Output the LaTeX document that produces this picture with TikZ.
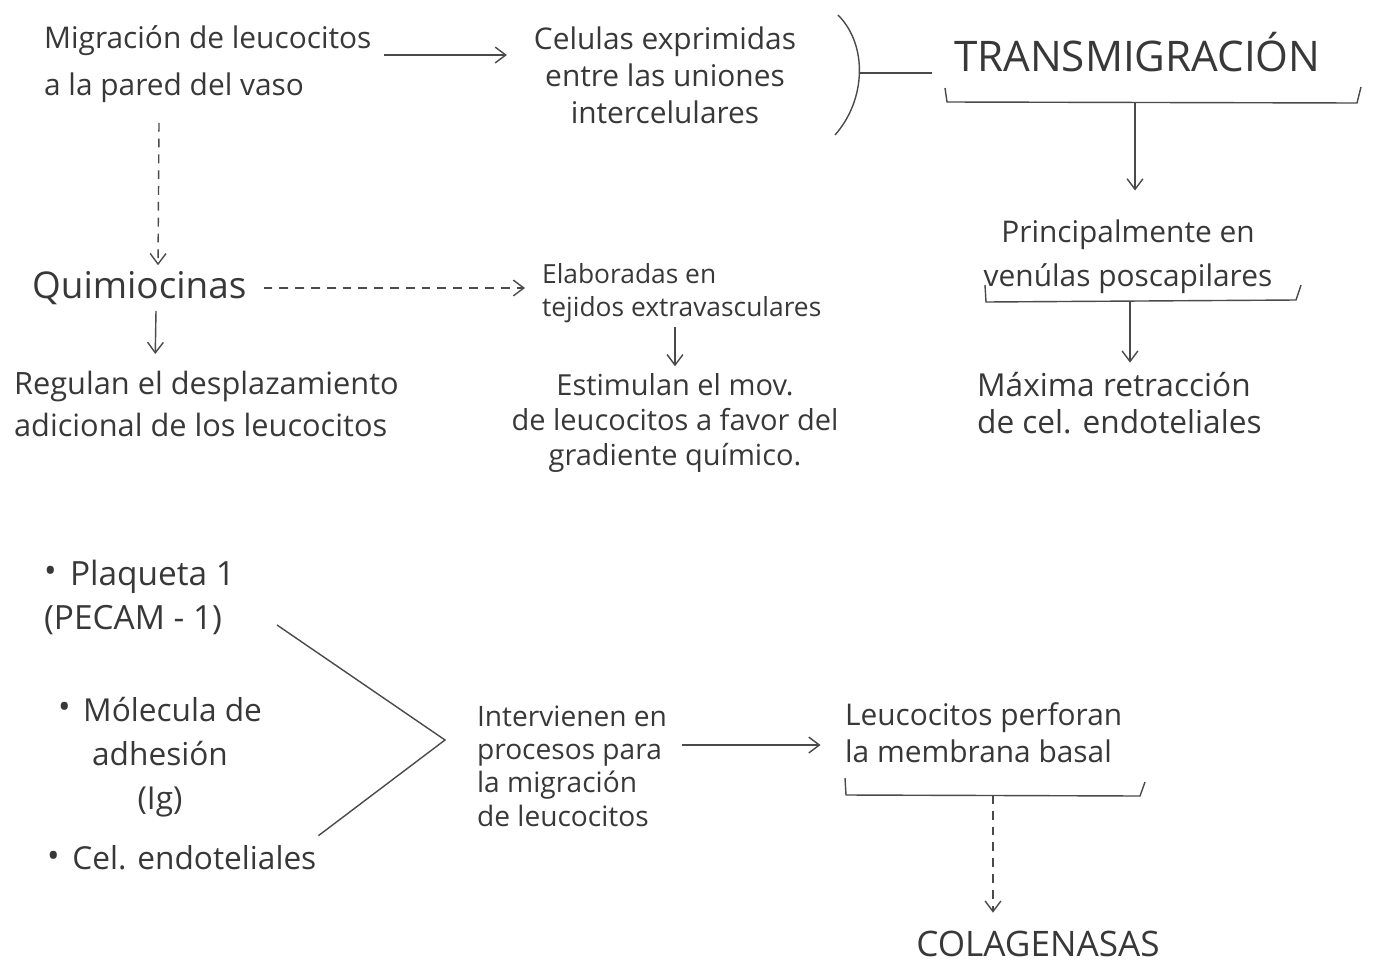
\documentclass[tikz,border=0pt]{standalone}
\usepackage{fontspec}
\setmainfont{Open Sans}
\usepackage{xcolor}
\usetikzlibrary{positioning,arrows.meta,calc}
\definecolor{ink}{HTML}{383838}
\definecolor{pencil}{HTML}{4A4A4A}
\newcommand{\hw}[2]{\fontsize{#1}{#2}\selectfont}
\newcommand{\dotb}{\raisebox{0.15ex}{\hw{19}{19}•}\hspace{0.4em}}

\begin{document}
\begin{tikzpicture}[x=0.02cm, y=-0.02cm,
    hand/.style={text=ink, inner sep=1pt, align=left, font=\hw{16}{24}},
    arrow/.style={-{Straight Barb[length=6pt,width=9pt]}, draw=pencil, line width=0.8pt},
    dasharrow/.style={arrow, dash pattern=on 5pt off 4pt},
    bracket/.style={draw=pencil, line width=0.8pt}
]
\useasboundingbox (0,0) rectangle (1373,967);

% Top row
\node[hand, anchor=west, font=\hw{17}{27}] (mig) at (42,64) {Migración de leucocitos\\a la pared del vaso};
\node[hand, align=center, font=\hw{17}{21}] (cel) at (665,75) {Celulas exprimidas\\entre las uniones\\intercelulares};
\node[hand, anchor=west, font=\hw{24}{28}] (trans) at (952,52) {TRANSMIGRACIÓN};

\draw[arrow, shorten <=0.2cm, shorten >=0.5cm] (mig.east |- 0,55) -- (cel.west |- 0,55);

% Closing arc and link to TRANSMIGRACION
\coordinate (arcT) at (838,15);
\coordinate (arcB) at (835,135);
\draw[bracket] (arcT) .. controls (868,45) and (866,100) .. (arcB) coordinate[pos=0.5] (arcM);
\draw[bracket, shorten >=0.4cm] (arcM) -- (trans.west |- arcM);

% Right column
\node[hand, align=center, font=\hw{17}{25}] (prin) at (1128,257) {Principalmente en\\venúlas poscapilares};
\node[hand, anchor=west, font=\hw{18}{21}] (max) at (975,403) {Máxima retracción\\de cel. endoteliales};

% Bracket under TRANSMIGRACION
\coordinate (tb) at (1135,102);
\draw[bracket] (945,88) -- (947,102) -- (1357,103) -- (1361,87);
\draw[arrow, shorten >=0.55cm] (tb) -- (prin.north -| tb);

% Bracket under venulas
\coordinate (pb) at (1130,301);
\draw[bracket] (985,285) -- (986,302) -- (1296,300) -- (1301,285);
\draw[arrow, shorten >=0.15cm] (pb) -- (max.north -| pb);

% Quimiocinas
\node[hand, anchor=west, font=\hw{21}{24}] (quim) at (30,288) {Quimiocinas};
\draw[dasharrow] ($(mig.south west)+(117,18)$) -- ($(quim.north west)+(128,-4)$);
\node[hand, anchor=west, font=\hw{15}{19}] (elab) at (540,293) {Elaboradas en\\tejidos extravasculares};
\draw[dasharrow, shorten <=0.3cm, shorten >=0.3cm] (quim.east) -- (elab.west |- quim.east);

\node[hand, anchor=west, font=\hw{17.5}{24}] (reg) at (12,404) {Regulan el desplazamiento\\adicional de los leucocitos};
\draw[arrow, shorten >=0.3cm] ($(quim.south west)+(126,4)$) -- ($(reg.north west)+(143,0)$);

\node[hand, align=center, font=\hw{16.5}{20}] (est) at (675,423) {Estimulan el mov.\\de leucocitos a favor del\\gradiente químico.};
\draw[arrow, shorten <=0.05cm, shorten >=0.1cm] (elab.south -| est.north) -- (est.north);

% Bullets
\node[hand, anchor=west, font=\hw{19}{25}] (pla) at (42,597) {\dotb Plaqueta 1\\(PECAM - 1)};
\node[hand, align=center, font=\hw{18}{25}] (mol) at (160,757) {\dotb Mólecula de\\adhesión\\(Ig)};
\node[hand, anchor=west, font=\hw{18}{24}] (endo) at (45,858) {\dotb Cel. endoteliales};

\coordinate (vtx) at (445,740);
\draw[bracket] ($(pla.east)+(40,28)$) -- (vtx) -- ($(endo.north east)+(0,-8)$);

\node[hand, anchor=west, font=\hw{16}{19}] (inter) at (475,766) {Intervienen en\\procesos para\\la migración\\de leucocitos};
\node[hand, anchor=west, font=\hw{17}{21}] (leu) at (843,733) {Leucocitos perforan\\la membrana basal};
\draw[arrow, shorten <=0.25cm, shorten >=0.45cm] (inter.east |- 0,745) -- (leu.west |- 0,745);

% Bracket under membrana basal
\coordinate (lb) at (993,795);
\draw[bracket] (845,778) -- (846,795) -- (1140,796) -- (1145,782);
\node[text=ink, inner sep=0pt, anchor=base west, font=\hw{20}{22}] (col) at (916,956) {COLAGENASAS};
\draw[dasharrow, shorten >=0.35cm] (lb) -- (col.north -| lb);

\end{tikzpicture}
\end{document}
